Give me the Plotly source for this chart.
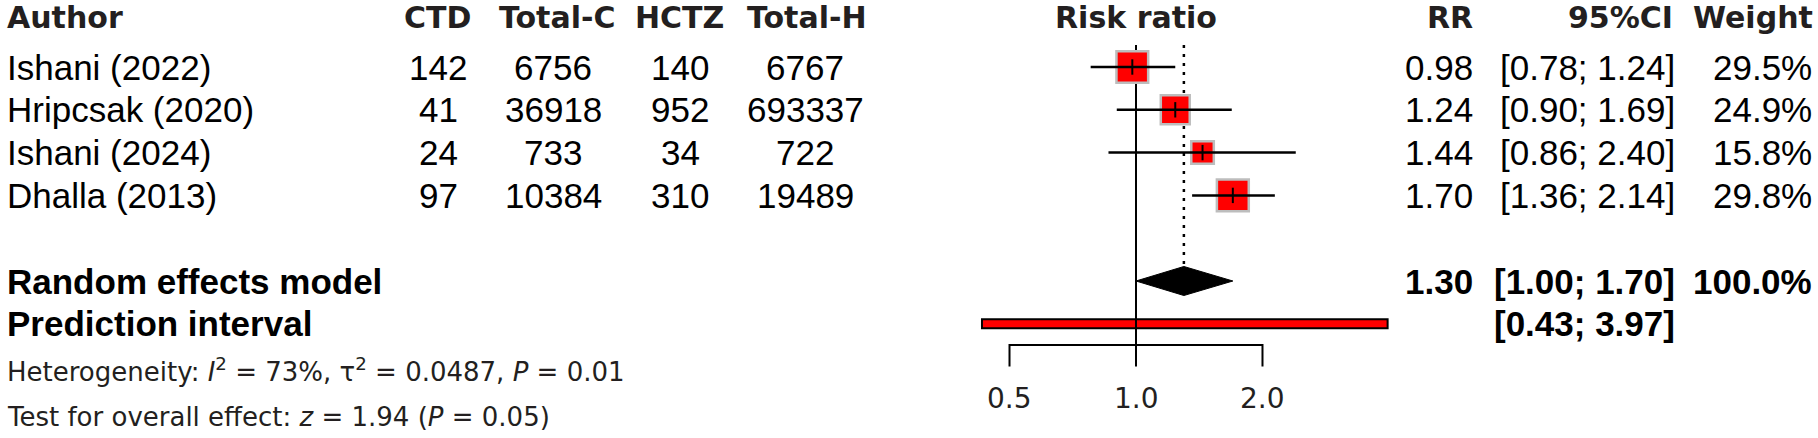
import numpy as np
import plotly.graph_objects as go

# ---------------- data ----------------
authors = ["Ishani (2022)", "Hripcsak (2020)", "Ishani (2024)", "Dhalla (2013)"]
ctd_events = [142, 41, 24, 97]
ctd_total = [6756, 36918, 733, 10384]
hctz_events = [140, 952, 34, 310]
hctz_total = [6767, 693337, 722, 19489]
rr = [0.98, 1.24, 1.44, 1.70]
ci_low = [0.78, 0.90, 0.86, 1.36]
ci_high = [1.24, 1.69, 2.40, 2.14]
weights = [29.5, 24.9, 15.8, 29.8]

pooled_rr = 1.30
pooled_low = 1.00
pooled_high = 1.70
pooled_weight = 100.0
pi_low = 0.43
pi_high = 3.97

heterogeneity_text = "Heterogeneity: <i>I</i><sup>2</sup> = 73%, τ<sup>2</sup> = 0.0487, <i>P</i> = 0.01"
overall_text = "Test for overall effect: <i>z</i> = 1.94 (<i>P</i> = 0.05)"

tick_vals = [0.5, 1.0, 2.0]
tick_text = ["0.5", "1.0", "2.0"]

headers_left = ["Author", "CTD", "Total-C", "HCTZ", "Total-H"]
headers_right = ["RR", "95%CI", "Weight"]

# ---------------- layout constants ----------------
W, H = 1818, 438
REF_PX = 1136.0          # pixel of RR = 1
PX_PER_DECADE = 420.2
ROW1_PX = 67.0
ROW_STEP = 42.8

rows = [1, 2, 3, 4]
ROW_POOL = 6
ROW_PI = 7
ROW_HEAD = -0.15
ROW_AXIS = 7.495
ROW_TICK_END = 8.0
ROW_TICKLAB = 8.734
ROW_HET = 8.08
ROW_TEST = 9.17
ROW_LINE_TOP = 0.486

HEAD_COL = "#231f20"
HEAD_FONT = dict(family="DejaVu Sans", size=30, color=HEAD_COL)
BODY_FONT = dict(family="Liberation Sans, Arial", size=35, color="black")
BOLD_FONT = dict(family="Liberation Sans, Arial", size=35, color="black", weight="bold")
SMALL_FONT = dict(family="DejaVu Sans", size=26, color=HEAD_COL)


def px(x):
    return x / W


fig = go.Figure()
shapes = []

# prediction interval bar
shapes.append(dict(type="rect", xref="x", yref="y", x0=pi_low, x1=pi_high,
                   ysizemode="pixel", yanchor=ROW_PI, y0=-4.5, y1=4.5,
                   fillcolor="#ff0000", line=dict(color="black", width=2), layer="below"))
# reference line at 1
shapes.append(dict(type="line", xref="x", yref="y", x0=1, x1=1, y0=ROW_LINE_TOP, y1=ROW_TICK_END,
                   line=dict(color="black", width=2), layer="below"))
# dotted line at pooled estimate
diam_h = 0.339
shapes.append(dict(type="line", xref="x", yref="y", x0=pooled_rr, x1=pooled_rr,
                   y0=ROW_LINE_TOP, y1=ROW_POOL - diam_h,
                   line=dict(color="black", width=2.5, dash="3px,6px"), layer="below"))

# study boxes (size from weight)
box_sizes = [6.3 * np.sqrt(w) - 2.5 for w in weights]
fig.add_trace(go.Scatter(x=rr, y=rows, mode="markers",
                         marker=dict(symbol="square", size=box_sizes, color="#ff0000", opacity=1,
                                     line=dict(color="#bdbdbd", width=2.5)),
                         hoverinfo="skip", showlegend=False))

# CI lines
for r, lo, hi in zip(rows, ci_low, ci_high):
    fig.add_trace(go.Scatter(x=[lo, hi], y=[r, r], mode="lines",
                             line=dict(color="black", width=2.5), hoverinfo="skip", showlegend=False))
# point ticks
fig.add_trace(go.Scatter(x=rr, y=rows, mode="markers",
                         marker=dict(symbol="line-ns", size=11, line=dict(color="black", width=2)),
                         hoverinfo="skip", showlegend=False))
# diamond
fig.add_trace(go.Scatter(x=[pooled_low, pooled_rr, pooled_high, pooled_rr, pooled_low],
                         y=[ROW_POOL, ROW_POOL - diam_h, ROW_POOL, ROW_POOL + diam_h, ROW_POOL],
                         mode="lines", fill="toself", fillcolor="black",
                         line=dict(color="black", width=1), hoverinfo="skip", showlegend=False))
# axis
fig.add_trace(go.Scatter(x=[tick_vals[0], tick_vals[0], tick_vals[-1], tick_vals[-1]],
                         y=[ROW_TICK_END, ROW_AXIS, ROW_AXIS, ROW_TICK_END], mode="lines",
                         line=dict(color="black", width=2), hoverinfo="skip", showlegend=False))

ann = []


def add_text(text, x, y, font, anchor="left", xref="paper"):
    ann.append(dict(text=text, x=x, y=y, xref=xref, yref="y", xanchor=anchor, yanchor="middle",
                    showarrow=False, font=font))


# headers
add_text("<b>Author</b>", px(5), ROW_HEAD, HEAD_FONT, "left")
for t, cx in zip(headers_left[1:], [437, 557, 679, 807]):
    add_text("<b>%s</b>" % t, px(cx), ROW_HEAD, HEAD_FONT, "center")
add_text("<b>Risk ratio</b>", px(1136), ROW_HEAD, HEAD_FONT, "center")
for t, rx in zip(headers_right, [1475, 1675, 1815]):
    add_text("<b>%s</b>" % t, px(rx), ROW_HEAD, HEAD_FONT, "right")

# study rows
for i, r in enumerate(rows):
    add_text(authors[i], px(5), r, BODY_FONT, "left")
    add_text(str(ctd_events[i]), px(438), r, BODY_FONT, "center")
    add_text(str(ctd_total[i]), px(553), r, BODY_FONT, "center")
    add_text(str(hctz_events[i]), px(680), r, BODY_FONT, "center")
    add_text(str(hctz_total[i]), px(805), r, BODY_FONT, "center")
    add_text("%.2f" % rr[i], px(1475), r, BODY_FONT, "right")
    add_text("[%.2f; %.2f]" % (ci_low[i], ci_high[i]), px(1677), r, BODY_FONT, "right")
    add_text("%.1f%%" % weights[i], px(1814), r, BODY_FONT, "right")

# pooled rows
add_text("<b>Random effects model</b>", px(5), ROW_POOL, BOLD_FONT, "left")
add_text("<b>Prediction interval</b>", px(5), ROW_PI, BOLD_FONT, "left")
add_text("<b>%.2f</b>" % pooled_rr, px(1475), ROW_POOL, BOLD_FONT, "right")
add_text("<b>[%.2f; %.2f]</b>" % (pooled_low, pooled_high), px(1677), ROW_POOL, BOLD_FONT, "right")
add_text("<b>%.1f%%</b>" % pooled_weight, px(1814), ROW_POOL, BOLD_FONT, "right")
add_text("<b>[%.2f; %.2f]</b>" % (pi_low, pi_high), px(1677), ROW_PI, BOLD_FONT, "right")

# heterogeneity
add_text(heterogeneity_text, px(5), ROW_HET, SMALL_FONT, "left")
add_text(overall_text, px(5), ROW_TEST, SMALL_FONT, "left")

# tick labels
for v, t in zip(tick_vals, tick_text):
    ann.append(dict(text=t, x=np.log10(v), y=ROW_TICKLAB, xref="x", yref="y",
                    xanchor="center", yanchor="middle", showarrow=False,
                    font=dict(family="DejaVu Sans", size=28, color=HEAD_COL)))

fig.update_layout(
    width=W, height=H,
    margin=dict(l=0, r=0, t=0, b=0),
    paper_bgcolor="white", plot_bgcolor="white",
    shapes=shapes, annotations=ann,
    xaxis=dict(type="log", range=[-REF_PX / PX_PER_DECADE, (W - REF_PX) / PX_PER_DECADE],
               visible=False, domain=[0, 1]),
    yaxis=dict(range=[1 + (H - ROW1_PX) / ROW_STEP, 1 - ROW1_PX / ROW_STEP], visible=False,
               domain=[0, 1]),
    showlegend=False,
)

fig.write_html("out.html", config={"displayModeBar": False, "staticPlot": True},
               post_script="document.body.style.margin='0px';")
